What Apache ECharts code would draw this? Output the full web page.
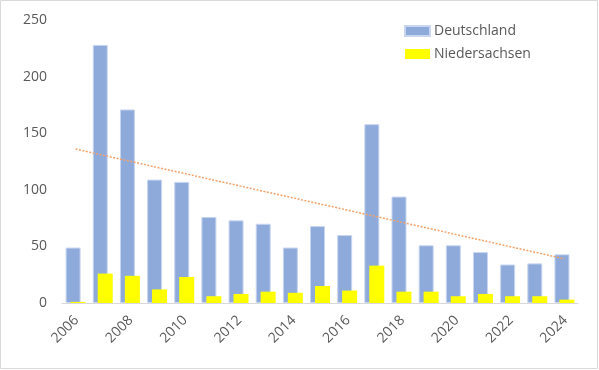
<!DOCTYPE html>
<html>
<head>
<meta charset="utf-8">
<script src="https://cdn.jsdelivr.net/npm/echarts@6/dist/echarts.min.js"></script>
<style>
html,body{margin:0;padding:0;background:#fff;}
#c{width:599px;height:370px;}
</style>
</head>
<body>
<div id="c"></div>
<script>
const years = ['2006','2007','2008','2009','2010','2011','2012','2013','2014','2015','2016','2017','2018','2019','2020','2021','2022','2023','2024'];
const deutschland = [49,228,171,109,107,76,73,70,49,68,60,158,94,51,51,45,34,35,43];
const niedersachsen = [1,26,24,12,23,6,8,10,9,15,11,33,10,10,6,8,6,6,3];
// linear trendline of Deutschland at its two ends
const trendline = [136,null,null,null,null,null,null,null,null,null,null,null,null,null,null,null,null,null,39];
const yTicks = [0,50,100,150,200,250];

const chart = echarts.init(document.getElementById('c'));
const font = "'Open Sans', 'Liberation Sans', sans-serif";
chart.setOption({
  animation:false,
  grid:{left:62,right:21,top:20,bottom:67,containLabel:false},
  legend:{
    data:['Deutschland','Niedersachsen'],
    orient:'vertical',left:404,top:24,padding:0,itemWidth:25,itemHeight:10,itemGap:9,
    icon:'rect',
    textStyle:{color:'#595959',fontSize:14,fontFamily:font,padding:[0,0,0,-1]}
  },
  xAxis:{
    type:'category',data:years,
    axisLine:{lineStyle:{color:'#d9d9d9',width:1}},
    axisTick:{show:false},
    axisLabel:{show:false}
  },
  yAxis:{
    type:'value',min:yTicks[0],max:yTicks[yTicks.length-1],interval:50,
    axisLine:{show:false},axisTick:{show:false},splitLine:{show:false},
    axisLabel:{color:'#595959',fontSize:14,fontFamily:font,margin:15}
  },
  series:[
    {name:'Deutschland',type:'bar',data:deutschland,barWidth:15,barGap:'-67%',
     itemStyle:{color:'#8eaadb',borderColor:'#c8d6f0',borderWidth:1}},
    {name:'Niedersachsen',type:'bar',data:niedersachsen,barWidth:15,
     itemStyle:{color:'#ffff00'}},
    {name:'Trend',type:'line',data:trendline,connectNulls:true,symbol:'none',z:5,
     lineStyle:{color:'#f4a26a',width:1.5,type:[2,1.5]}}
  ]
});

// rotated category labels (every second year), placed via the axis scale
const graphics = [{type:'rect',shape:{x:0.5,y:0.5,width:597,height:368},style:{fill:'none',stroke:'#d9d9d9',lineWidth:1},silent:true}];
years.forEach(function(y,i){
  if(i%2!==0) return;
  const p = chart.convertToPixel({xAxisIndex:0,yAxisIndex:0},[i,0]);
  graphics.push({type:'text',x:p[0]+1,y:p[1]+15,rotation:Math.PI/4,silent:true,
    style:{text:y,fill:'#595959',font:'14px '+font,align:'right',verticalAlign:'middle'}});
});
chart.setOption({graphic:graphics});
</script>
</body>
</html>
